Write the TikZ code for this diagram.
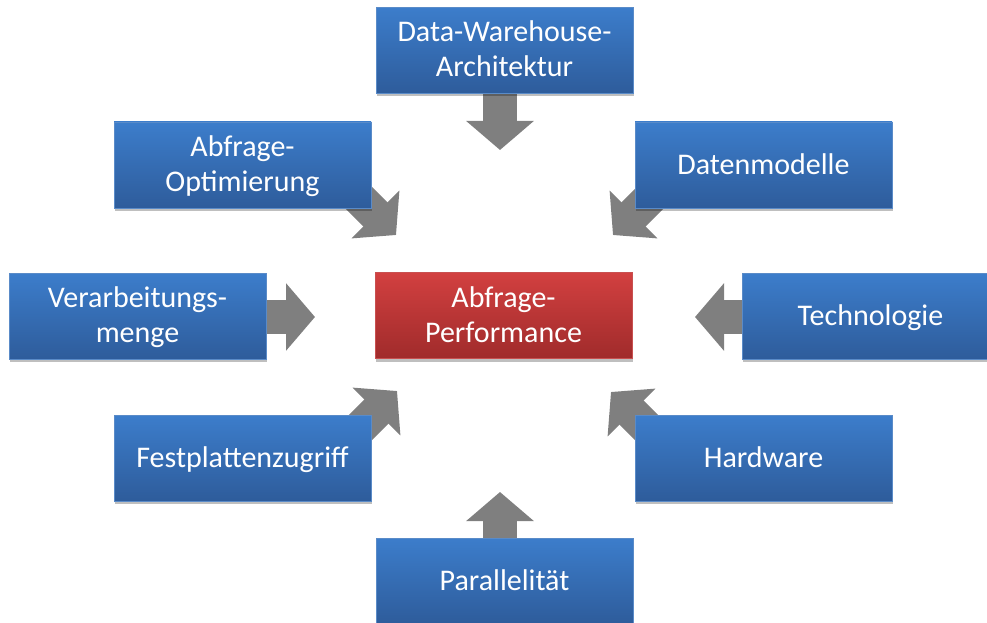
\documentclass[tikz,border=0pt]{standalone}
\usepackage{fontspec}
\setmainfont{Carlito}
\usetikzlibrary{arrows.meta,shadows,backgrounds}

\definecolor{boxtop}{HTML}{3C7DCB}
\definecolor{boxbot}{HTML}{2E5C9B}
\definecolor{boxline}{HTML}{5A8BC8}
\definecolor{redtop}{HTML}{D24040}
\definecolor{redbot}{HTML}{A02B2B}
\definecolor{redline}{HTML}{C85050}
\definecolor{arrowgray}{HTML}{7F7F7F}

\tikzset{
  factor/.style={rectangle, minimum width=257pt, minimum height=86pt, inner sep=0pt,
    top color=boxtop, bottom color=boxbot, draw=boxline, line width=0.8pt,
    text=white, align=center, font=\fontsize{30}{35}\selectfont,
    text height=22pt, text depth=4pt,
    drop shadow={shadow xshift=1pt, shadow yshift=-3pt, opacity=0.25, fill=black}},
  twolines/.style={text height=57pt},
  target/.style={factor, top color=redtop, bottom color=redbot, draw=redline},
  blockarrow/.style={draw=arrowgray, line width=34pt, line cap=butt,
    -{Triangle[width=66pt,length=29pt]}, arrowgray}
}

\begin{document}
\begin{tikzpicture}[x=1pt, y=-1pt]
  \useasboundingbox (0,0) rectangle (987,623);

  % influencing factors around the central target
  \node[target, twolines] (perf) at (503.5,315.5) {Abfrage-\\Performance};
  \node[factor, twolines] (dwh)  at (504.5,50.5)  {Data-Warehouse-\\Architektur};
  \node[factor, twolines] (opt)  at (242.5,165)   {Abfrage-\\Optimierung};
  \node[factor] (dat)  at (763.5,165)   {Datenmodelle};
  \node[factor, twolines] (ver)  at (137.5,316)   {Verarbeitungs-\\menge};
  \node[factor] (tech) at (870.5,316)   {Technologie};
  \node[factor] (fest) at (242.5,458)   {Festplattenzugriff};
  \node[factor] (hard) at (763.5,458)   {Hardware};
  \node[factor] (par)  at (504.5,581)   {Parallelität};

  % arrow tips pointing at the target
  \coordinate (tDwh)  at (500,150);
  \coordinate (tPar)  at (500,492);
  \coordinate (tVer)  at (315,317);
  \coordinate (tTech) at (695,317);
  \coordinate (tOpt)  at (396,235);
  \coordinate (tDat)  at (613,235);
  \coordinate (tFest) at (397,391);
  \coordinate (tHard) at (611,392);

  % block arrows, behind the boxes
  \begin{scope}[on background layer]
    \draw[blockarrow] (dwh.center -| tDwh) -- (tDwh);
    \draw[blockarrow] (par.center -| tPar) -- (tPar);
    \draw[blockarrow] (ver.center |- tVer) -- (tVer);
    \draw[blockarrow] (tech.center |- tTech) -- (tTech);
    \draw[blockarrow] ([shift={(-70,-70)}]tOpt) -- (tOpt);
    \draw[blockarrow] ([shift={(70,-70)}]tDat) -- (tDat);
    \draw[blockarrow] ([shift={(-70,70)}]tFest) -- (tFest);
    \draw[blockarrow] ([shift={(70,70)}]tHard) -- (tHard);
  \end{scope}
\end{tikzpicture}
\end{document}
